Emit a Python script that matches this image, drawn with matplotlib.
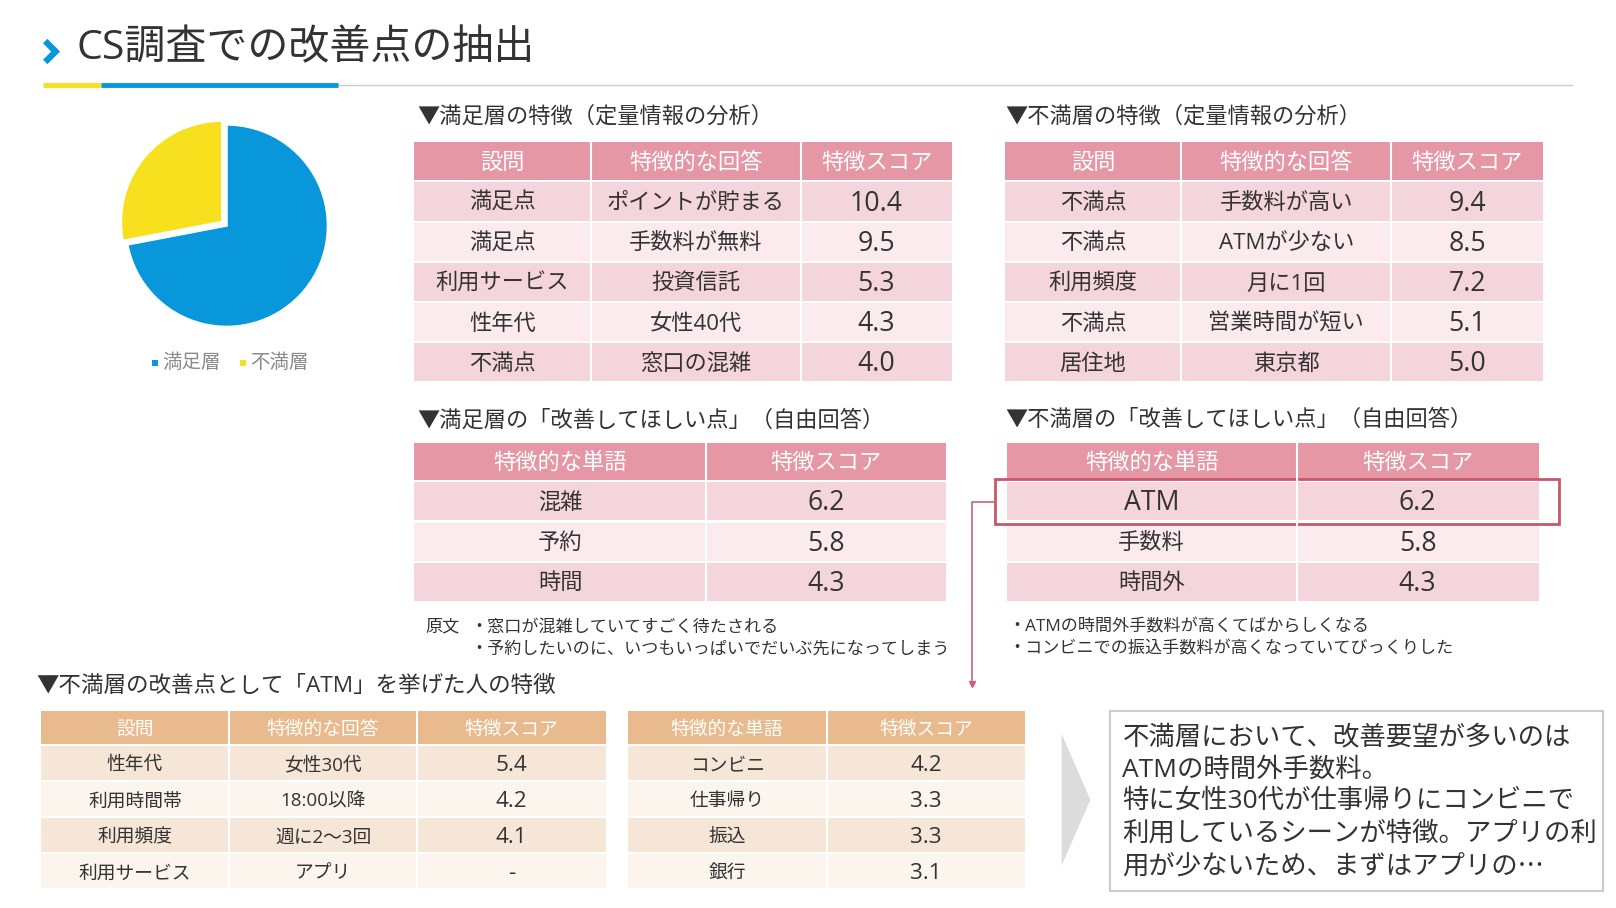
import matplotlib
matplotlib.use("Agg")
import matplotlib.pyplot as plt
from matplotlib.patches import Rectangle, Polygon

# Latin glyphs from Open Sans, Japanese glyphs fall back to Noto Sans CJK JP
plt.rcParams["font.family"] = ["Open Sans", "Noto Sans CJK JP", "DejaVu Sans"]

# ---- data ----
pie_labels = ["満足層", "不満層"]
pie_shares = [72, 28]

quant_header = ["設問", "特徴的な回答", "特徴スコア"]
free_header = ["特徴的な単語", "特徴スコア"]

sat_quant_q = ["満足点", "満足点", "利用サービス", "性年代", "不満点"]
sat_quant_a = ["ポイントが貯まる", "手数料が無料", "投資信託", "女性40代", "窓口の混雑"]
sat_quant_s = [10.4, 9.5, 5.3, 4.3, 4.0]

dis_quant_q = ["不満点", "不満点", "利用頻度", "不満点", "居住地"]
dis_quant_a = ["手数料が高い", "ATMが少ない", "月に1回", "営業時間が短い", "東京都"]
dis_quant_s = [9.4, 8.5, 7.2, 5.1, 5.0]

sat_free_w = ["混雑", "予約", "時間"]
sat_free_s = [6.2, 5.8, 4.3]
sat_free_notes = ["・窓口が混雑していてすごく待たされる",
                  "・予約したいのに、いつもいっぱいでだいぶ先になってしまう"]

dis_free_w = ["ATM", "手数料", "時間外"]
dis_free_s = [6.2, 5.8, 4.3]
dis_free_notes = ["・ATMの時間外手数料が高くてばからしくなる",
                  "・コンビニでの振込手数料が高くなっていてびっくりした"]

atm_q = ["性年代", "利用時間帯", "利用頻度", "利用サービス"]
atm_a = ["女性30代", "18:00以降", "週に2～3回", "アプリ"]
atm_s = ["5.4", "4.2", "4.1", "-"]

atm_w = ["コンビニ", "仕事帰り", "振込", "銀行"]
atm_ws = [4.2, 3.3, 3.3, 3.1]

summary_lines = ["不満層において、改善要望が多いのは",
                 "ATMの時間外手数料。",
                 "特に女性30代が仕事帰りにコンビニで",
                 "利用しているシーンが特徴。アプリの利",
                 "用が少ないため、まずはアプリの…"]

# ---- style ----
TEXT = "#333333"
BLUE = "#0797DA"
YELLOW = "#F7E11F"
PINK_HEAD = "#E597A6"
PINK_ROWS = ["#F5D5DC", "#FBEBEF"]
TAN_HEAD = "#E8BA8D"
TAN_ROWS = ["#F6E6D8", "#FCF5EE"]
W, H = 1616, 908
# layout units: slide drawn on a 1568-wide grid, scaled to the output size
GW = 1568
GH = H * GW / W
DY = 2  # text centre nudge


def fmt(vals):
    return [f"{v:.1f}" for v in vals]


def label(ax, x, y, s, fs, **kw):
    kw.setdefault("color", TEXT)
    kw.setdefault("va", "center")
    # latin-only strings are set larger so they sit at the height of the kana
    if s.isascii():
        fs *= 1.2
    return ax.text(x, y + DY, s, fontsize=fs, **kw)


def draw_table(ax, x_edges, top, head_h, row_h, header, columns,
               head_color, row_colors, head_fs, body_fs, gap=2):
    x0, x1 = x_edges[0], x_edges[-1]
    ax.add_patch(Rectangle((x0, top), x1 - x0, head_h, color=head_color, lw=0))
    for j, h in enumerate(header):
        xc = (x_edges[j] + x_edges[j + 1]) / 2
        label(ax, xc, top + head_h / 2, h, head_fs, ha="center", color="white")
    rows = list(zip(*columns))
    y = top + head_h + gap
    for i, row in enumerate(rows):
        ax.add_patch(Rectangle((x0, y), x1 - x0, row_h,
                               color=row_colors[i % 2], lw=0))
        for j, val in enumerate(row):
            xc = (x_edges[j] + x_edges[j + 1]) / 2
            label(ax, xc, y + row_h / 2, val, body_fs, ha="center")
        y += row_h + gap
    for xe in x_edges[1:-1]:
        ax.plot([xe, xe], [top, y - gap], color="white", lw=1.5)


fig = plt.figure(figsize=(W / 100, H / 100), dpi=100)
ax = fig.add_axes([0, 0, 1, 1])
ax.set_xlim(0, GW)
ax.set_ylim(GH, 0)
ax.axis("off")

# title
ax.plot([46, 54, 46], [42, 50, 58], color=BLUE, lw=4.5, solid_joinstyle="miter")
label(ax, 74, 46, "CS調査での改善点の抽出", 29.5)
ax.plot([328, 1525], [82, 82], color="#CCCCCC", lw=1)
ax.plot([42, 98], [82, 82], color=YELLOW, lw=3.5, solid_capstyle="butt")
ax.plot([98, 328], [82, 82], color=BLUE, lw=3.5, solid_capstyle="butt")

# pie
r = 98
cx, cy = 220, 219
pax = fig.add_axes([(cx - 1.15 * r) / GW, 1 - (cy + 1.15 * r) / GH,
                    2.3 * r / GW, 2.3 * r / GH])
pax.pie(pie_shares[::-1], colors=[YELLOW, BLUE], startangle=90,
        explode=[0.06, 0], wedgeprops=dict(edgecolor="white", linewidth=1.5))
pax.set_xlim(-1.15, 1.15)
pax.set_ylim(-1.15, 1.15)
pax.set_aspect("equal")
pax.axis("off")

# pie legend
for lx, lab, col in zip([150, 236], pie_labels, [BLUE, YELLOW]):
    ax.add_patch(Rectangle((lx - 3, 349), 6, 6, color=col, lw=0))
    label(ax, lx + 7, 350, lab, 14, color="#8A8A8A")

# satisfied quantitative
label(ax, 405, 111, "▼満足層の特徴（定量情報の分析）", 16)
draw_table(ax, [402, 573, 777, 924], 138, 37, 37, quant_header,
           [sat_quant_q, sat_quant_a, fmt(sat_quant_s)],
           PINK_HEAD, PINK_ROWS, 16, 16)

# dissatisfied quantitative
label(ax, 975, 111, "▼不満層の特徴（定量情報の分析）", 16)
draw_table(ax, [975, 1146, 1350, 1497], 138, 37, 37, quant_header,
           [dis_quant_q, dis_quant_a, fmt(dis_quant_s)],
           PINK_HEAD, PINK_ROWS, 16, 16)

# satisfied free answers
label(ax, 405, 406, "▼満足層の「改善してほしい点」（自由回答）", 16)
draw_table(ax, [402, 685, 918], 430, 36, 37, free_header,
           [sat_free_w, fmt(sat_free_s)],
           PINK_HEAD, PINK_ROWS, 16, 16)
label(ax, 413, 607, "原文", 12.3)
for k, line in enumerate(sat_free_notes):
    label(ax, 456, 607 + 21 * k, line, 12.3)

# dissatisfied free answers
label(ax, 975, 406, "▼不満層の「改善してほしい点」（自由回答）", 16)
draw_table(ax, [977, 1258, 1493], 430, 36, 37, free_header,
           [dis_free_w, fmt(dis_free_s)],
           PINK_HEAD, PINK_ROWS, 16, 16)
for k, line in enumerate(dis_free_notes):
    label(ax, 978, 607 + 21 * k, line, 12.3)

# highlight + connector
ax.add_patch(Rectangle((965, 465), 548, 43, fill=False, edgecolor="#C9566B", lw=2))
ax.plot([965, 943, 943], [487, 487, 660], color="#C96478", lw=1.2)
ax.plot([943], [664], marker="v", ms=5, color="#C96478")

# ATM people
label(ax, 35, 664, "▼不満層の改善点として「ATM」を挙げた人の特徴", 16.2)
draw_table(ax, [40, 222, 405, 588], 690, 32, 33, quant_header,
           [atm_q, atm_a, atm_s], TAN_HEAD, TAN_ROWS, 13.5, 13.5)
draw_table(ax, [609, 802, 995], 690, 32, 33, free_header,
           [atm_w, fmt(atm_ws)], TAN_HEAD, TAN_ROWS, 13.5, 13.5)

# arrow + summary box
ax.add_patch(Polygon([(1030, 712), (1058, 776), (1030, 840)], closed=True,
                     color="#DCDCDC", lw=0))
ax.add_patch(Rectangle((1077, 690), 478, 175, facecolor="white",
                       edgecolor="#CCCCCC", lw=1.5))
for k, line in enumerate(summary_lines):
    fam = ["Noto Sans CJK JP"] if "…" in line else None
    label(ax, 1089, 714 + 31 * k, line, 19, family=fam)

fig.savefig("out.png", dpi=100)
